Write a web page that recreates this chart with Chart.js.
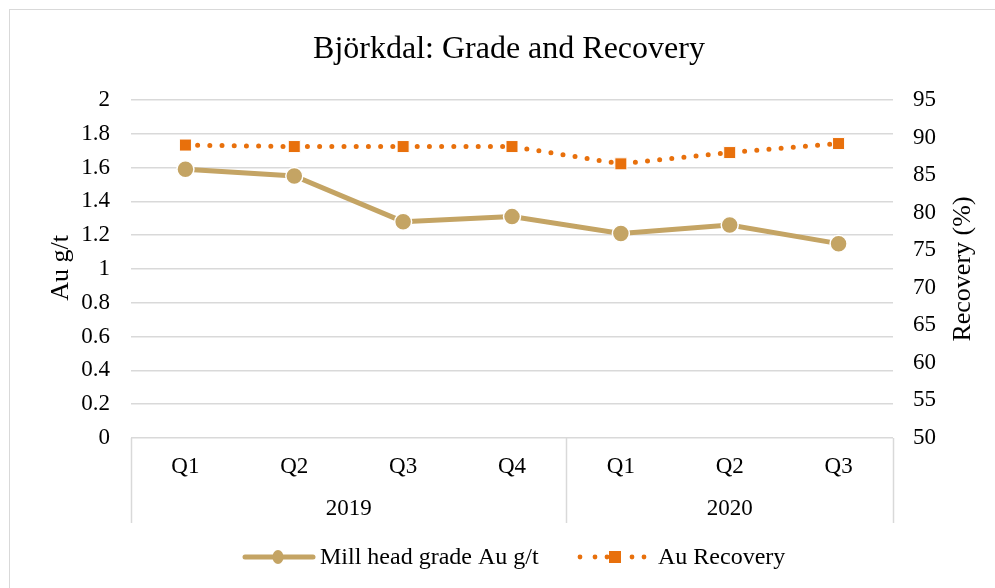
<!DOCTYPE html>
<html>
<head>
<meta charset="utf-8">
<script src="https://cdn.jsdelivr.net/npm/chart.js@4/dist/chart.umd.min.js"></script>
<style>
  html, body { margin: 0; padding: 0; background: #fff; }
  #wrap { width: 995px; height: 588px; position: relative; }
</style>
</head>
<body>
<div id="wrap"><canvas id="c" width="995" height="588"></canvas></div>
<script>
const chartTitle = 'Björkdal: Grade and Recovery';
const quarters = ['Q1', 'Q2', 'Q3', 'Q4', 'Q1', 'Q2', 'Q3'];
const years = ['2019', '2019', '2019', '2019', '2020', '2020', '2020'];
const gradeLabel = 'Mill head grade Au g/t';
const gradeValues = [1.59, 1.55, 1.28, 1.31, 1.21, 1.26, 1.15];
const recoveryLabel = 'Au Recovery';
const recoveryValues = [89.0, 88.8, 88.8, 88.8, 86.5, 88.0, 89.2];
const leftAxisTitle = 'Au g/t';
const rightAxisTitle = 'Recovery (%)';

const FONT = '"Liberation Serif", "Times New Roman", serif';
const GRADE_COLOR = '#C4A464';
const REC_COLOR = '#E8700C';
const GRID = '#D9D9D9';

const decor = {
  id: 'decor',
  afterDraw(chart) {
    const ctx = chart.ctx;
    const ca = chart.chartArea;
    const xs = chart.scales.x;
    ctx.save();
    // outer border
    ctx.strokeStyle = GRID;
    ctx.lineWidth = 1;
    ctx.strokeRect(9.5, 9.5, 1000, 600);
    // title
    ctx.fillStyle = '#000';
    ctx.font = '32px ' + FONT;
    ctx.textAlign = 'center';
    ctx.textBaseline = 'middle';
    ctx.fillText(chartTitle, 509, 50);
    // axis titles
    ctx.font = '26px ' + FONT;
    ctx.save();
    ctx.translate(61, 268);
    ctx.rotate(-Math.PI / 2);
    ctx.fillText(leftAxisTitle, 0, 0);
    ctx.restore();
    ctx.save();
    ctx.translate(963, 269);
    ctx.rotate(-Math.PI / 2);
    ctx.fillText(rightAxisTitle, 0, 0);
    ctx.restore();
    // group separators and year labels
    ctx.strokeStyle = GRID;
    ctx.lineWidth = 1.5;
    const sepBottom = 523;
    const seps = [ca.left, ca.right];
    const groups = [];
    let start = 0;
    for (let i = 1; i <= years.length; i++) {
      if (i === years.length || years[i] !== years[start]) {
        groups.push({ label: years[start], a: start, b: i - 1 });
        if (i < years.length) {
          seps.push((xs.getPixelForValue(i - 1) + xs.getPixelForValue(i)) / 2);
        }
        start = i;
      }
    }
    seps.forEach(x => {
      const px = Math.round(x) + 0.5;
      ctx.beginPath();
      ctx.moveTo(px, ca.bottom);
      ctx.lineTo(px, sepBottom);
      ctx.stroke();
    });
    ctx.fillStyle = '#000';
    ctx.font = '23px ' + FONT;
    groups.forEach(g => {
      const cx = (xs.getPixelForValue(g.a) + xs.getPixelForValue(g.b)) / 2;
      ctx.fillText(g.label, cx, 509);
    });
    // legend
    const ly = 557;
    ctx.font = '24px ' + FONT;
    ctx.textAlign = 'left';
    // grade item
    ctx.strokeStyle = GRADE_COLOR;
    ctx.lineWidth = 5;
    ctx.lineCap = 'round';
    ctx.beginPath();
    ctx.moveTo(245, ly);
    ctx.lineTo(313, ly);
    ctx.stroke();
    ctx.fillStyle = GRADE_COLOR;
    ctx.beginPath();
    ctx.ellipse(278, ly, 5.5, 7, 0, 0, Math.PI * 2);
    ctx.fill();
    ctx.fillStyle = '#000';
    ctx.fillText(gradeLabel, 320, ly + 1);
    // recovery item
    ctx.fillStyle = REC_COLOR;
    [580, 595, 607, 632, 644].forEach(x => {
      ctx.beginPath();
      ctx.arc(x, ly, 2.4, 0, Math.PI * 2);
      ctx.fill();
    });
    ctx.fillRect(609, ly - 6, 12, 12);
    ctx.fillStyle = '#000';
    ctx.fillText(recoveryLabel, 658, ly + 1);
    ctx.restore();
  }
};

new Chart(document.getElementById('c'), {
  type: 'line',
  data: {
    labels: quarters,
    datasets: [
      {
        label: gradeLabel,
        data: gradeValues,
        yAxisID: 'y',
        borderColor: GRADE_COLOR,
        backgroundColor: GRADE_COLOR,
        borderWidth: 5,
        pointRadius: 8.5,
        pointBorderColor: '#fff',
        pointBorderWidth: 1.5,
        pointBackgroundColor: GRADE_COLOR,
        tension: 0,
        order: 2
      },
      {
        label: recoveryLabel,
        data: recoveryValues,
        yAxisID: 'y2',
        borderColor: REC_COLOR,
        backgroundColor: REC_COLOR,
        borderWidth: 5,
        borderDash: [0, 12.2],
        borderCapStyle: 'round',
        pointStyle: 'rect',
        pointRadius: 8.5,
        pointBorderColor: '#fff',
        pointBorderWidth: 1,
        pointBackgroundColor: REC_COLOR,
        tension: 0,
        order: 1
      }
    ]
  },
  options: {
    responsive: false,
    animation: false,
    devicePixelRatio: 1,
    layout: { padding: { left: 0, right: 0, top: 100, bottom: 0 } },
    plugins: {
      legend: { display: false },
      title: { display: false },
      tooltip: { enabled: false }
    },
    scales: {
      x: {
        type: 'category',
        offset: true,
        grid: { display: false, drawTicks: false },
        border: { display: false },
        ticks: {
          color: '#000',
          font: { family: FONT, size: 23 },
          padding: 15,
          maxRotation: 0,
          autoSkip: false
        },
        afterFit(s) { s.height = 150; }
      },
      y: {
        position: 'left',
        min: 0,
        max: 2,
        ticks: {
          stepSize: 0.2,
          color: '#000',
          font: { family: FONT, size: 23 },
          padding: 21,
          callback: v => Math.round(v * 10) / 10
        },
        grid: { color: GRID, lineWidth: 1.5, drawTicks: false },
        border: { display: false },
        afterFit(s) { s.width = 131; }
      },
      y2: {
        position: 'right',
        min: 50,
        max: 95,
        ticks: {
          stepSize: 5,
          color: '#000',
          font: { family: FONT, size: 23 },
          padding: 20
        },
        grid: { display: false, drawTicks: false },
        border: { display: false },
        afterFit(s) { s.width = 102; }
      }
    }
  },
  plugins: [decor]
});
</script>
</body>
</html>
